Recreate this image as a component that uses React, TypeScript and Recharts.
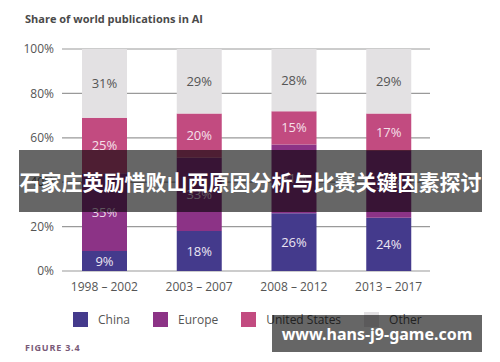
import { BarChart, Bar, XAxis, YAxis, CartesianGrid, LabelList } from "recharts";

const periods = ["1998 – 2002", "2003 – 2007", "2008 – 2012", "2013 – 2017"];
const china = [9, 18, 26, 24];
const europe = [35, 33, 31, 30];
const unitedStates = [25, 20, 15, 17];
const other = [31, 29, 28, 29];
const yTicks = [0, 20, 40, 60, 80, 100];

const data = periods.map((period, i) => ({
  period,
  china: china[i],
  europe: europe[i],
  us: unitedStates[i],
  other: other[i],
}));

const series = [
  { key: "china", name: "China", color: "#443a8c", text: "#ece6f2" },
  { key: "europe", name: "Europe", color: "#8c3386", text: "#ecd8ea" },
  { key: "us", name: "United States", color: "#c24b80", text: "#f5e0ea" },
  { key: "other", name: "Other", color: "#e3e1e3", text: "#555" },
];

const font = "'Open Sans', sans-serif";
const pct = (v: number) => `${v}%`;

const App = () => (
  <div style={{ position: "absolute", left: 0, top: 0, width: 500, height: 362, background: "#fff" }}>
    <div style={{ position: "absolute", left: 25, top: 11, fontFamily: font, fontWeight: 700, fontSize: 11, color: "#4a4a4a" }}>
      Share of world publications in AI
    </div>
    {/* x axis height (30) sits on top of the bottom margin */}
    <BarChart width={500} height={362} data={data} margin={{ top: 49, right: 64, bottom: 61, left: 0 }}>
      <CartesianGrid horizontal vertical={false} x={62} width={368} stroke="#9a9a9a" strokeWidth={1.2} />
      <YAxis
        width={57}
        domain={[0, 100]}
        ticks={yTicks}
        tickFormatter={pct}
        axisLine={false}
        tickLine={false}
        tickSize={0}
        tickMargin={3}
        tick={{ fontSize: 12, fill: "#555", fontFamily: font }}
      />
      <XAxis
        dataKey="period"
        axisLine={false}
        tickLine={false}
        tickSize={0}
        tickMargin={11}
        tick={{ fontSize: 12, fill: "#555", fontFamily: font }}
      />
      {series.map((s) => (
        <Bar key={s.key} dataKey={s.key} name={s.name} stackId="a" fill={s.color} barSize={45} isAnimationActive={false}>
          <LabelList dataKey={s.key} position="center" formatter={pct} fill={s.text} fontSize={13} fontFamily={font} />
        </Bar>
      ))}
    </BarChart>
    <div
      style={{
        position: "absolute",
        top: 311,
        left: 73,
        display: "flex",
        fontFamily: font,
        fontSize: 12,
        color: "#555",
      }}
    >
      {series.map((s) => (
        <div key={s.key} style={{ display: "flex", alignItems: "center", marginRight: 23 }}>
          <span style={{ width: 15, height: 15, background: s.color, marginRight: 10 }} />
          <span>{s.name}</span>
        </div>
      ))}
    </div>
    <div
      style={{
        position: "absolute",
        left: 25,
        top: 341,
        fontFamily: font,
        fontWeight: 700,
        fontSize: 9,
        letterSpacing: 0.8,
        color: "#7a5a78",
      }}
    >
      FIGURE 3.4
    </div>
    <div
      style={{
        position: "absolute",
        left: 19,
        top: 150,
        width: 463,
        height: 62,
        background: "rgba(0,0,0,0.6)",
        display: "flex",
        alignItems: "center",
        justifyContent: "center",
        color: "#fff",
        fontFamily: "'Noto Sans CJK SC', sans-serif",
        fontWeight: 700,
        fontSize: 21,
        whiteSpace: "nowrap",
      }}
    >
      石家庄英励惜败山西原因分析与比赛关键因素探讨
    </div>
    <div
      style={{
        position: "absolute",
        left: 272,
        top: 315,
        width: 210,
        height: 37,
        background: "rgba(0,0,0,0.6)",
        display: "flex",
        alignItems: "center",
        justifyContent: "center",
        color: "#fff",
        fontFamily: "'Noto Sans', sans-serif",
        fontWeight: 700,
        fontSize: 16,
        whiteSpace: "nowrap",
      }}
    >
      www.hans-j9-game.com
    </div>
  </div>
);

export default App;
